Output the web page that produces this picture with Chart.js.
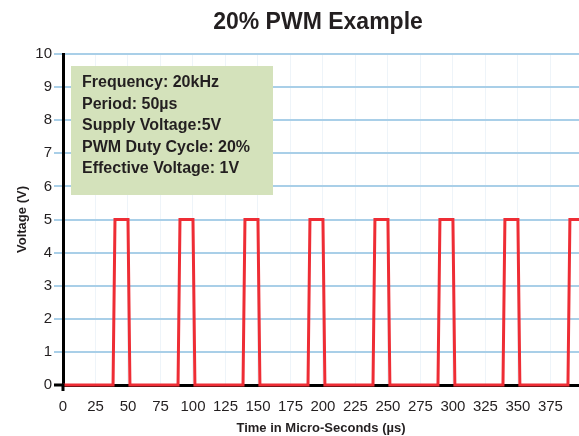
<!DOCTYPE html>
<html>
<head>
<meta charset="utf-8">
<script src="https://cdn.jsdelivr.net/npm/chart.js@4.4.1/dist/chart.umd.min.js"></script>
<style>
  html, body { margin: 0; padding: 0; background: #fff; }
  #wrap { width: 579px; height: 436px; position: relative; }
</style>
</head>
<body>
<div id="wrap"><canvas id="pwm-chart"></canvas></div>
<script>
// edge points of the square wave
const pwmTimes = [0, 38.5, 40, 50, 51.5, 88.5, 90, 100, 101.5, 138.5, 140, 150, 151.5,
  188.5, 190, 200, 201.5, 238.5, 240, 250, 251.5, 288.5, 290, 300, 301.5,
  338.5, 340, 350, 351.5, 388.5, 390, 400];
const pwmVolts = [0, 0, 5, 5, 0, 0, 5, 5, 0, 0, 5, 5, 0,
  0, 5, 5, 0, 0, 5, 5, 0, 0, 5, 5, 0,
  0, 5, 5, 0, 0, 5, 5];
const xTicks = [0, 25, 50, 75, 100, 125, 150, 175, 200, 225, 250, 275, 300, 325, 350, 375];
const infoLines = [
  "Frequency: 20kHz",
  "Period: 50\u00b5s",
  "Supply Voltage:5V",
  "PWM Duty Cycle: 20%",
  "Effective Voltage: 1V",
];
const chartTitle = "20% PWM Example";

const FONT = "'Liberation Sans', Arial, Helvetica, sans-serif";
const TEXT = "#231f20";

// title is centred over the plot area, not the canvas, so draw it here
const plotTitle = {
  id: "plotTitle",
  afterDraw(chart) {
    const { ctx, chartArea } = chart;
    ctx.save();
    ctx.fillStyle = TEXT;
    ctx.font = "bold 23px " + FONT;
    ctx.textAlign = "center";
    ctx.textBaseline = "middle";
    ctx.fillText(chartTitle, (chartArea.left + chartArea.right) / 2 - 3, 23);
    ctx.restore();
  },
};

const infoBox = {
  id: "infoBox",
  afterDatasetsDraw(chart) {
    const { ctx, chartArea } = chart;
    const x = chartArea.left + 8, y = chartArea.top + 12;
    ctx.save();
    ctx.fillStyle = "#d4e2bb";
    ctx.fillRect(x, y, 202, 129);
    ctx.fillStyle = TEXT;
    ctx.font = "bold 16px " + FONT;
    ctx.textBaseline = "middle";
    infoLines.forEach((line, i) => {
      ctx.fillText(line, x + 11, y + 17 + i * 21.5);
    });
    ctx.restore();
  },
};

// little black cross at the origin
const originCross = {
  id: "originCross",
  afterDraw(chart) {
    const { ctx } = chart;
    const x0 = chart.scales.x.getPixelForValue(0);
    const y0 = chart.scales.y.getPixelForValue(0);
    ctx.save();
    ctx.strokeStyle = "#000";
    ctx.lineWidth = 3;
    ctx.beginPath();
    ctx.moveTo(x0 - 9, y0);
    ctx.lineTo(x0, y0);
    ctx.lineTo(x0, y0 + 6);
    ctx.stroke();
    ctx.restore();
  },
};

new Chart(document.getElementById("pwm-chart"), {
  type: "scatter",
  data: {
    datasets: [{
      data: pwmTimes.map((t, i) => ({ x: t, y: pwmVolts[i] })),
      showLine: true,
      borderColor: "#ee2d35",
      borderWidth: 3,
      pointRadius: 0,
      tension: 0,
      clip: 2,
    }],
  },
  options: {
    responsive: true,
    maintainAspectRatio: false,
    animation: false,
    layout: { padding: { top: 54, right: 0, bottom: 0, left: 0 } },
    plugins: {
      legend: { display: false },
      tooltip: { enabled: false },
      title: { display: false },
    },
    scales: {
      x: {
        type: "linear",
        min: 0,
        max: 397,
        afterBuildTicks: (s) => { s.ticks = xTicks.map((v) => ({ value: v })); },
        afterFit: (s) => { s.height = 51; },
        ticks: {
          color: TEXT,
          font: { family: FONT, size: 15 },
          padding: 13,
          maxRotation: 0,
          autoSkip: false,
        },
        grid: { color: "#eef4f9", lineWidth: 1, drawTicks: false },
        border: { color: "#000", width: 3 },
        title: {
          display: true,
          text: "Time in Micro-Seconds (\u00b5s)",
          color: TEXT,
          font: { family: FONT, size: 13, weight: "bold" },
          padding: { top: 2, bottom: 0 },
        },
      },
      y: {
        min: 0,
        max: 10,
        afterFit: (s) => { s.width = 63; },
        ticks: {
          stepSize: 1,
          color: TEXT,
          font: { family: FONT, size: 15 },
          padding: 2,
        },
        grid: { color: "#a9cfe8", lineWidth: 2, tickLength: 9 },
        border: { color: "#000", width: 3 },
        title: {
          display: true,
          text: "Voltage (V)",
          color: TEXT,
          font: { family: FONT, size: 13, weight: "bold" },
          padding: { top: 15, bottom: 0 },
        },
      },
    },
  },
  plugins: [infoBox, originCross, plotTitle],
});
</script>
</body>
</html>
